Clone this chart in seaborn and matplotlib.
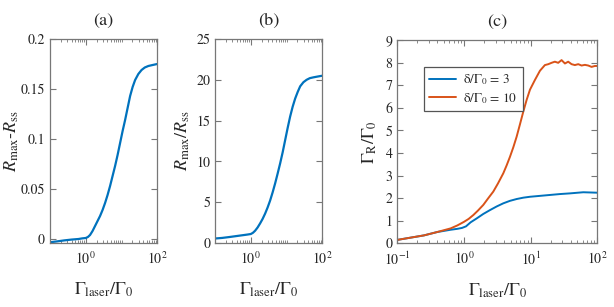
import numpy as np
import pandas as pd
import seaborn as sns
from matplotlib import pyplot as plt
from matplotlib.ticker import FuncFormatter, LogLocator, NullFormatter

# panel (a) and (b): Rmax-Rss and Rmax/Rss vs laser linewidth
x_ab = [0.1, 0.158, 0.251, 0.398, 0.631, 0.794, 1.0, 1.148, 1.318, 1.549, 1.820,
        2.138, 2.512, 2.951, 3.467, 4.074, 4.786, 5.623, 6.607, 7.762, 9.120,
        10.72, 12.59, 14.79, 17.38, 20.42, 23.99, 29.51, 36.31, 44.67, 56.23,
        74.13, 100]
r_diff = [-0.0033, -0.0024, -0.0014, -0.0006, 0.0, 0.0006, 0.001, 0.002, 0.004,
          0.008, 0.013, 0.018, 0.023, 0.029, 0.036, 0.044, 0.053, 0.063, 0.073,
          0.084, 0.096, 0.108, 0.119, 0.131, 0.143, 0.152, 0.159, 0.165, 0.169,
          0.1715, 0.173, 0.174, 0.175]
r_ratio = [0.55, 0.62, 0.73, 0.85, 0.97, 1.03, 1.1, 1.25, 1.5, 1.9, 2.4, 2.95,
           3.6, 4.35, 5.2, 6.2, 7.3, 8.5, 9.75, 11.1, 12.6, 14.1, 15.5, 16.7,
           17.7, 18.5, 19.2, 19.7, 20.0, 20.2, 20.3, 20.4, 20.5]

# panel (c): Gamma_R / Gamma_0 for two detunings
x_blue = [0.1, 0.158, 0.251, 0.398, 0.631, 0.794, 0.933, 1.072, 1.259, 1.549,
          1.950, 2.455, 3.090, 3.890, 4.898, 6.166, 7.762, 9.772, 13.80, 19.50,
          27.54, 38.90, 61.66, 100]
g_blue = [0.15, 0.25, 0.35, 0.5, 0.6, 0.64, 0.68, 0.75, 0.93, 1.1, 1.3, 1.47,
          1.63, 1.77, 1.88, 1.96, 2.02, 2.06, 2.1, 2.14, 2.18, 2.21, 2.26, 2.24]
x_orange = [0.1, 0.158, 0.251, 0.398, 0.631, 0.794, 1.0, 1.175, 1.380, 1.622,
            1.950, 2.291, 2.754, 3.236, 3.890, 4.365, 4.898, 5.495, 6.166, 6.918,
            7.762, 8.710, 9.772, 11.59, 13.80, 16.37, 18.4, 20.6, 23.1, 25.9,
            29.1, 32.7, 36.6, 41.1, 46.1, 51.8, 58.1, 65.2, 73.1, 82.0, 92.0, 100]
g_orange = [0.15, 0.25, 0.35, 0.5, 0.66, 0.79, 0.95, 1.08, 1.25, 1.45, 1.7, 1.98,
            2.29, 2.65, 3.1, 3.45, 3.83, 4.25, 4.72, 5.27, 5.83, 6.35, 6.8, 7.23,
            7.64, 7.89, 7.93, 7.99, 8.04, 7.99, 8.11, 7.96, 8.04, 7.93, 7.89, 7.93,
            7.87, 7.90, 7.87, 7.81, 7.85, 7.85]
labels_c = [r'δ/Γ$_0$ = 3', r'δ/Γ$_0$ = 10']

sns.set_style('ticks')
plt.rcParams['font.family'] = ['STIXGeneral', 'Liberation Serif', 'DejaVu Serif']
plt.rcParams['mathtext.fontset'] = 'stix'
plt.rcParams['axes.edgecolor'] = '#777777'
plt.rcParams['xtick.color'] = '#777777'
plt.rcParams['ytick.color'] = '#777777'
plt.rcParams['xtick.labelcolor'] = '#262626'
plt.rcParams['ytick.labelcolor'] = '#262626'

blue = '#0072BD'
orange = '#D95319'

fig = plt.figure(figsize=(6.14, 3.07), dpi=100)
ax_a = fig.add_axes([0.0814, 0.2085, 0.1748, 0.6645])
ax_b = fig.add_axes([0.3502, 0.2085, 0.1748, 0.6645])
ax_c = fig.add_axes([0.6471, 0.2075, 0.3257, 0.6622])

df_ab = pd.DataFrame({'x': x_ab, 'diff': r_diff, 'ratio': r_ratio})
sns.lineplot(data=df_ab, x='x', y='diff', ax=ax_a, color=blue, lw=1.6)
sns.lineplot(data=df_ab, x='x', y='ratio', ax=ax_b, color=blue, lw=1.6)

df_c = pd.concat([
    pd.DataFrame({'x': x_blue, 'g': g_blue, 'case': labels_c[0]}),
    pd.DataFrame({'x': x_orange, 'g': g_orange, 'case': labels_c[1]}),
])
sns.lineplot(data=df_c, x='x', y='g', hue='case', ax=ax_c,
             palette=[blue, orange], lw=1.4, sort=False)

fmt = FuncFormatter(lambda v, p: '{:g}'.format(v))
xlab = r'$\mathrm{\Gamma_{laser}/\Gamma_0}$'

for ax in (ax_a, ax_b, ax_c):
    ax.set_xscale('log')
    ax.set_xlim(0.1, 100)
    ax.xaxis.set_minor_locator(LogLocator(base=10, subs=np.arange(1, 10), numticks=20))
    ax.xaxis.set_minor_formatter(NullFormatter())
    ax.tick_params(which='both', direction='in', top=True, right=True, labelsize=10)
    ax.tick_params(which='major', length=4, width=0.8)
    ax.tick_params(which='minor', length=2.2, width=0.6)
    ax.tick_params(axis='x', pad=5)
    ax.yaxis.set_major_formatter(fmt)
    ax.set_xlabel(xlab, fontsize=13, labelpad=10)
    for s in ax.spines.values():
        s.set_linewidth(0.9)

for ax in (ax_a, ax_b):
    ax.set_xticks([1, 100])

ax_a.set_ylim(-0.004, 0.2)
ax_a.set_yticks([0, 0.05, 0.1, 0.15, 0.2])
ax_a.set_ylabel(r'$R_{\rm max}$-$R_{\rm ss}$', fontsize=13, labelpad=0)
ax_a.set_title('(a)', fontsize=13, pad=10)

ax_b.set_ylim(0, 25)
ax_b.set_yticks([0, 5, 10, 15, 20, 25])
ax_b.set_ylabel(r'$R_{\rm max}/R_{\rm ss}$', fontsize=13, labelpad=3)
ax_b.set_title('(b)', fontsize=13, pad=10)

ax_c.set_xticks([0.1, 1, 10, 100])
ax_c.set_ylim(0, 9)
ax_c.set_yticks(range(10))
ax_c.set_ylabel(r'$\mathrm{\Gamma_R/\Gamma_0}$', fontsize=13, labelpad=5)
ax_c.set_title('(c)', fontsize=13, pad=10)

leg = ax_c.legend(loc='upper left', bbox_to_anchor=(0.1, 0.9), fontsize=9.5,
                  frameon=True, fancybox=False, framealpha=1, handlelength=2.0,
                  borderpad=0.4, labelspacing=0.3, handletextpad=0.6)
leg.get_frame().set_edgecolor('#555555')
leg.get_frame().set_linewidth(0.9)
for t in leg.get_texts():
    t.set_color('#262626')

fig.savefig('out.png', dpi=100)
